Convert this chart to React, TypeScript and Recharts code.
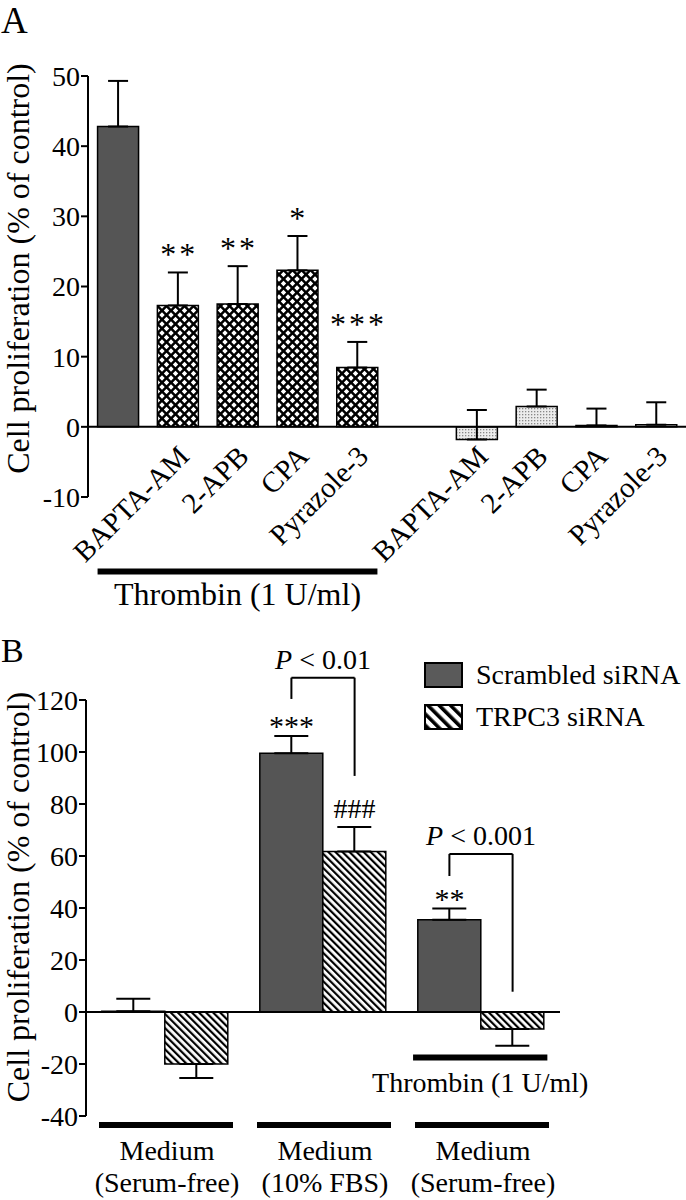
import React from "react"
import {
  BarChart,
  Bar,
  XAxis,
  YAxis,
  ErrorBar,
  Cell,
  ReferenceLine,
  ReferenceDot,
  Legend,
} from "recharts"

const FONT = '"Liberation Serif", "Times New Roman", serif'

// ---- panel A ----
const slotsA = ["thr", "thr-bapta", "thr-2apb", "thr-cpa", "thr-pyr", "gap", "bapta", "2apb", "cpa", "pyr"]
const labelsA = ["", "BAPTA-AM", "2-APB", "CPA", "Pyrazole-3", "", "BAPTA-AM", "2-APB", "CPA", "Pyrazole-3"]
const valuesA = [42.8, 17.3, 17.5, 22.3, 8.45, null, -1.8, 2.9, 0.2, 0.3]
const semA = [6.5, 4.7, 5.4, 4.9, 3.65, null, 4.2, 2.4, 2.4, 3.2]
const starsA = ["", "**", "**", "*", "***", "", "", "", "", ""]
const fillKeyA = ["solid", "cross", "cross", "cross", "cross", "solid", "dots", "dots", "dots", "dots"]
const ticksA = [-10, 0, 10, 20, 30, 40, 50]
const thrombinA = { from: 0, to: 4, y: -20.6, text: "Thrombin (1 U/ml)" }

// ---- panel B ----
const groupsB = ["sf-1", "fbs", "sf-2"]
const groupLine1 = ["Medium", "Medium", "Medium"]
const groupLine2 = ["(Serum-free)", "(10% FBS)", "(Serum-free)"]
const seriesNames = ["Scrambled siRNA", "TRPC3 siRNA"]
const scrambled = [0.3, 99.5, 35.5]
const scrambledSem = [4.8, 6.7, 4.3]
const trpc3 = [-20.0, 61.7, -6.5]
const trpc3Sem = [5.4, 9.5, 6.5]
const scrambledMarks = ["", "***", "**"]
const trpc3Marks = ["", "###", ""]
const ticksB = [-40, -20, 0, 20, 40, 60, 80, 100, 120]
const brackets = [
  { group: 1, left: 120.4, top: 128.6, right: 90.8, p: "0.01" },
  { group: 2, left: 52.3, top: 60.8, right: 7.8, p: "0.001" },
]
const thrombinB = { group: 2, y: -17.5, text: "Thrombin (1 U/ml)" }

const fills: Record<string, string> = {
  solid: "#555555",
  cross: "url(#crossA)",
  dots: "url(#dotsA)",
}

const rowsA = slotsA.map((id, i) => ({
  id,
  pos: i + 0.5,
  v: valuesA[i],
  err: semA[i] == null ? null : [0, semA[i]],
}))

// error bars in B point away from zero
const away = (v: number, e: number) => (v < 0 ? [e, 0] : [0, e])

const rowsB = groupsB.map((id, i) => ({
  id,
  pos: i + 0.5,
  scr: scrambled[i],
  scrErr: away(scrambled[i], scrambledSem[i]),
  trp: trpc3[i],
  trpErr: away(trpc3[i], trpc3Sem[i]),
}))

// bar centres on the hidden 0..3 axis (two bars, 10% category gap)
const scrX = (g: number) => g + 0.3
const trpX = (g: number) => g + 0.7

function TickA({ x, y, payload }: any) {
  const label = labelsA[payload.index]
  if (!label) return <g />
  const ex = x + 13
  const ey = y - 39
  return (
    <text
      x={ex}
      y={ey}
      textAnchor="end"
      transform={`rotate(-45 ${ex} ${ey})`}
      fontSize={29}
      fontFamily={FONT}
      fill="#000"
    >
      {label}
    </text>
  )
}

function TickB({ x, y, payload }: any) {
  const i = payload.index
  return (
    <g>
      <line x1={x - 66} x2={x + 68} y1={y + 9} y2={y + 9} stroke="#000" strokeWidth={6} />
      <text x={x + 2} y={y + 44} textAnchor="middle" fontSize={28} fontFamily={FONT} fill="#000">
        {groupLine1[i]}
      </text>
      <text x={x + 2} y={y + 76} textAnchor="middle" fontSize={28} fontFamily={FONT} fill="#000">
        {groupLine2[i]}
      </text>
    </g>
  )
}

function YTitle({ viewBox, shift }: any) {
  if (!viewBox) return null
  const x = 29
  const cy = viewBox.y + viewBox.height / 2 + shift
  return (
    <text
      x={x}
      y={cy}
      transform={`rotate(-90 ${x} ${cy})`}
      textAnchor="middle"
      fontSize={32}
      fontFamily={FONT}
      fill="#000"
    >
      Cell proliferation (% of control)
    </text>
  )
}

function MarkLabel({ viewBox, text, size, lift, spacing = 0 }: any) {
  if (!viewBox) return null
  const cx = viewBox.x + viewBox.width / 2 + spacing / 2
  const cy = viewBox.y + viewBox.height / 2
  return (
    <text
      x={cx}
      y={cy - lift}
      textAnchor="middle"
      fontSize={size}
      fontFamily={FONT}
      letterSpacing={spacing}
      fill="#000"
    >
      {text}
    </text>
  )
}

function BelowLabel({ viewBox, text, size, drop }: any) {
  if (!viewBox) return null
  return (
    <text
      x={viewBox.x + viewBox.width / 2}
      y={viewBox.y + drop}
      textAnchor="middle"
      fontSize={size}
      fontFamily={FONT}
      fill="#000"
    >
      {text}
    </text>
  )
}

function PLabel({ viewBox, p }: any) {
  if (!viewBox) return null
  return (
    <text
      x={viewBox.x + viewBox.width / 2}
      y={viewBox.y - 9}
      textAnchor="middle"
      fontSize={28}
      fontFamily={FONT}
      fill="#000"
    >
      <tspan fontStyle="italic">P</tspan> &lt; {p}
    </text>
  )
}

function LegendB() {
  return (
    <div style={{ fontFamily: FONT, fontSize: 28, color: "#000" }}>
      {seriesNames.map((name, i) => (
        <div key={name} style={{ display: "flex", alignItems: "center", height: 26, marginBottom: 16 }}>
          <svg width={40} height={27} style={{ marginRight: 12, display: "block" }}>
            <defs>
              <pattern
                id="hatchIcon"
                width="8"
                height="8"
                patternUnits="userSpaceOnUse"
                patternTransform="rotate(-45)"
              >
                <rect width="8" height="8" fill="#fff" />
                <rect width="3.6" height="8" fill="#000" />
              </pattern>
            </defs>
            <rect
              x={1}
              y={1}
              width={37}
              height={24}
              fill={i === 0 ? "#5a5a5a" : "url(#hatchIcon)"}
              stroke="#000"
              strokeWidth={2}
            />
          </svg>
          <span style={{ lineHeight: "26px", whiteSpace: "nowrap" }}>{name}</span>
        </div>
      ))}
    </div>
  )
}

const axisStyle = { stroke: "#000", strokeWidth: 2 }
const tickStyle = { fontSize: 28, fill: "#000", fontFamily: FONT }

function PanelA() {
  return (
    <BarChart
      width={686}
      height={620}
      data={rowsA}
      margin={{ top: 76, right: 0, bottom: 122, left: 0 }}
      barCategoryGap="16%"
    >
      <defs>
        <pattern id="crossA" width="9" height="9" patternUnits="userSpaceOnUse">
          <rect width="9" height="9" fill="#000" />
          <path
            d="M4.5 1.8 L7.2 4.5 L4.5 7.2 L1.8 4.5 Z M0 -2.7 L2.7 0 L0 2.7 L-2.7 0 Z M9 -2.7 L11.7 0 L9 2.7 L6.3 0 Z M0 6.3 L2.7 9 L0 11.7 L-2.7 9 Z M9 6.3 L11.7 9 L9 11.7 L6.3 9 Z"
            fill="#fff"
          />
        </pattern>
        <pattern id="dotsA" width="3" height="3" patternUnits="userSpaceOnUse">
          <rect width="3" height="3" fill="#ececec" />
          <rect width="1.3" height="1.3" fill="#888" />
        </pattern>
      </defs>
      <XAxis
        dataKey="id"
        interval={0}
        axisLine={false}
        tickLine={false}
        tickSize={0}
        tickMargin={0}
        height={1}
        tick={(p: any) => <TickA {...p} />}
      />
      <XAxis
        xAxisId="n"
        dataKey="pos"
        type="number"
        domain={[0, slotsA.length]}
        allowDataOverflow
        hide
      />
      <YAxis
        domain={[-10, 50]}
        ticks={ticksA}
        width={88}
        axisLine={axisStyle}
        tickLine={axisStyle}
        tickSize={7}
        tickMargin={1}
        tick={tickStyle}
        label={<YTitle shift={-18} />}
      />
      <ReferenceLine y={0} stroke="#000" strokeWidth={2} />
      <Bar dataKey="v" stroke="#000" strokeWidth={1.5} isAnimationActive={false}>
        {rowsA.map((r, i) => (
          <Cell key={r.id} fill={fills[fillKeyA[i]]} />
        ))}
        <ErrorBar dataKey="err" width={10} strokeWidth={2} stroke="#000" direction="y" />
      </Bar>
      {slotsA.map((id, i) =>
        starsA[i] ? (
          <ReferenceDot
            key={"s" + id}
            x={id}
            y={(valuesA[i] as number) + (semA[i] as number)}
            r={0}
            fill="none"
            stroke="none"
            ifOverflow="visible"
            label={<MarkLabel text={starsA[i]} size={32} lift={7} spacing={3} />}
          />
        ) : null
      )}
      <ReferenceLine
        xAxisId="n"
        segment={[
          { x: thrombinA.from + 0.16, y: thrombinA.y },
          { x: thrombinA.to + 0.84, y: thrombinA.y },
        ]}
        stroke="#000"
        strokeWidth={6}
        ifOverflow="visible"
        label={<BelowLabel text={thrombinA.text} size={32} drop={34} />}
      />
    </BarChart>
  )
}

function PanelB() {
  return (
    <BarChart
      width={686}
      height={590}
      data={rowsB}
      margin={{ top: 90, right: 126, bottom: 83, left: 0 }}
      barCategoryGap="10%"
      barGap={0}
    >
      <defs>
        <pattern
          id="hatchB"
          width="5"
          height="5"
          patternUnits="userSpaceOnUse"
          patternTransform="rotate(-45)"
        >
          <rect width="5" height="5" fill="#fff" />
          <rect width="2.2" height="5" fill="#000" />
        </pattern>
      </defs>
      <XAxis
        dataKey="id"
        interval={0}
        axisLine={false}
        tickLine={false}
        tickSize={0}
        tickMargin={0}
        height={1}
        tick={(p: any) => <TickB {...p} />}
      />
      <XAxis
        xAxisId="n"
        dataKey="pos"
        type="number"
        domain={[0, groupsB.length]}
        allowDataOverflow
        hide
      />
      <YAxis
        domain={[-40, 120]}
        ticks={ticksB}
        width={86}
        axisLine={axisStyle}
        tickLine={axisStyle}
        tickSize={7}
        tickMargin={1}
        tick={tickStyle}
        label={<YTitle shift={-11} />}
      />
      <Legend
        layout="vertical"
        align="center"
        verticalAlign="middle"
        content={() => <LegendB />}
        wrapperStyle={{ left: 424, top: 52, width: "auto", height: "auto" }}
      />
      <ReferenceLine y={0} stroke="#000" strokeWidth={2} />
      <Bar dataKey="scr" name={seriesNames[0]} fill="#555555" stroke="#000" strokeWidth={1.5} isAnimationActive={false}>
        <ErrorBar dataKey="scrErr" width={17} strokeWidth={2} stroke="#000" direction="y" />
      </Bar>
      <Bar dataKey="trp" name={seriesNames[1]} fill="url(#hatchB)" stroke="#000" strokeWidth={1.5} isAnimationActive={false}>
        <ErrorBar dataKey="trpErr" width={17} strokeWidth={2} stroke="#000" direction="y" />
      </Bar>
      {groupsB.map((id, g) =>
        scrambledMarks[g] ? (
          <ReferenceDot
            key={"ms" + id}
            xAxisId="n"
            x={scrX(g)}
            y={scrambled[g] + scrambledSem[g]}
            r={0}
            fill="none"
            stroke="none"
            ifOverflow="visible"
            label={<MarkLabel text={scrambledMarks[g]} size={30} lift={0} />}
          />
        ) : null
      )}
      {groupsB.map((id, g) =>
        trpc3Marks[g] ? (
          <ReferenceDot
            key={"mt" + id}
            xAxisId="n"
            x={trpX(g)}
            y={trpc3[g] + trpc3Sem[g]}
            r={0}
            fill="none"
            stroke="none"
            ifOverflow="visible"
            label={<MarkLabel text={trpc3Marks[g]} size={28} lift={9} />}
          />
        ) : null
      )}
      {brackets.map((b) => (
        <React.Fragment key={"b" + b.group}>
          <ReferenceLine
            xAxisId="n"
            segment={[
              { x: scrX(b.group), y: b.left },
              { x: scrX(b.group), y: b.top },
            ]}
            stroke="#000"
            strokeWidth={2}
            ifOverflow="visible"
          />
          <ReferenceLine
            xAxisId="n"
            segment={[
              { x: scrX(b.group), y: b.top },
              { x: trpX(b.group), y: b.top },
            ]}
            stroke="#000"
            strokeWidth={2}
            ifOverflow="visible"
            label={<PLabel p={b.p} />}
          />
          <ReferenceLine
            xAxisId="n"
            segment={[
              { x: trpX(b.group), y: b.top },
              { x: trpX(b.group), y: b.right },
            ]}
            stroke="#000"
            strokeWidth={2}
            ifOverflow="visible"
          />
        </React.Fragment>
      ))}
      <ReferenceLine
        xAxisId="n"
        segment={[
          { x: thrombinB.group + 0.07, y: thrombinB.y },
          { x: thrombinB.group + 0.92, y: thrombinB.y },
        ]}
        stroke="#000"
        strokeWidth={6}
        ifOverflow="visible"
        label={<BelowLabel text={thrombinB.text} size={28} drop={34} />}
      />
    </BarChart>
  )
}

export default function App() {
  return (
    <div style={{ position: "absolute", left: 0, top: 0, width: 686, height: 1200, background: "#fff" }}>
      <div style={{ position: "absolute", left: 0, top: 0 }}>
        <PanelA />
      </div>
      <div style={{ position: "absolute", left: 0, top: 610 }}>
        <PanelB />
      </div>
      <svg
        width={686}
        height={1200}
        style={{ position: "absolute", left: 0, top: 0, pointerEvents: "none" }}
      >
        <text x={1} y={33} fontSize={37} fontFamily={FONT} fill="#000">
          A
        </text>
        <text x={1} y={662} fontSize={34} fontFamily={FONT} fill="#000">
          B
        </text>
      </svg>
    </div>
  )
}
